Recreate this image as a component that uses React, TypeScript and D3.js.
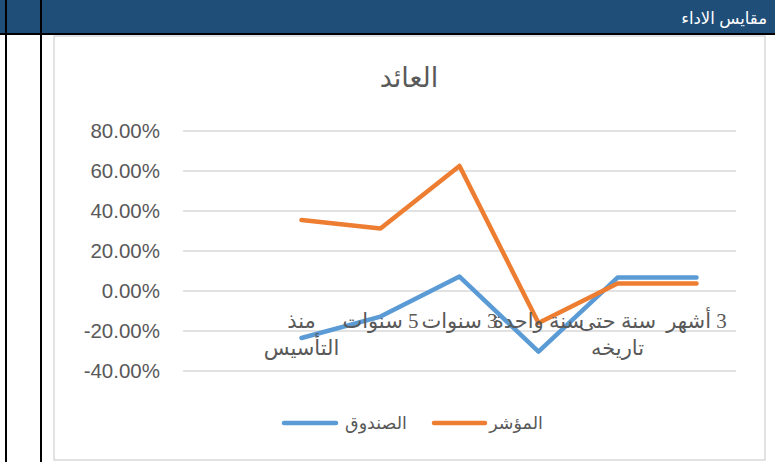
import React from "react";
import * as d3 from "d3";

const categories: string[] = ["", "منذ\nالتأسيس", "5 سنوات", "3 سنوات", "سنة واحدة", "سنة حتى\nتاريخه", "3 أشهر"];
const fundValues: (number | null)[] = [null, -23.5, -12.8, 7.2, -30.3, 6.7, 6.7];
const indexValues: (number | null)[] = [null, 35.5, 31.3, 62.5, -16, 3.8, 3.8];
const yTicks: number[] = [-40, -20, 0, 20, 40, 60, 80];
const seriesNames = { fund: "الصندوق", index: "المؤشر" };
const chartTitle = "العائد";
const headerTitle = "مقايس الاداء";

const W = 775;
const H = 462;
const GRID = "#d9d9d9";
const TEXT = "#595959";
const BLUE = "#5B9BD5";
const ORANGE = "#ED7D31";

export default function App() {
  const x = d3.scaleBand<string>().domain(categories.map((_, i) => String(i))).range([183, 736]);
  const y = d3.scaleLinear().domain([-40, 80]).range([371, 131]);
  const cx = (i: number) => (x(String(i)) as number) + x.bandwidth() / 2;

  const line = d3
    .line<number | null>()
    .defined((d) => d !== null)
    .x((_, i) => cx(i))
    .y((d) => y(d as number));

  const fmt = (v: number) => v.toFixed(2) + "%";
  const arabicFont = "'Noto Sans', 'DejaVu Sans', sans-serif";
  const serifArabic = "'Times New Roman', 'DejaVu Sans', serif";

  return (
    <svg
      width={W}
      height={H}
      style={{ position: "absolute", left: 0, top: 0, background: "#fff" }}
    >
      {/* header band */}
      <rect x={0} y={0} width={W} height={33} fill="#1F4E79" />
      <rect x={0} y={33} width={W} height={2} fill="#000" />
      <text
        x={767}
        y={24}
        textAnchor="end"
        fill="#fff"
        fontSize={16.5}
        fontFamily={arabicFont}
      >
        {headerTitle}
      </text>
      {/* table vertical lines */}
      <rect x={5} y={0} width={2} height={H} fill="#000" />
      <rect x={40} y={0} width={2} height={H} fill="#000" />

      {/* chart box */}
      <rect x={54} y={36} width={711} height={424} fill="#fff" stroke={GRID} strokeWidth={1.5} />

      {/* title */}
      <text x={409} y={87} textAnchor="middle" fontSize={27} fill={TEXT} fontFamily={arabicFont}>
        {chartTitle}
      </text>

      {/* gridlines + y labels */}
      {yTicks.map((t) => (
        <g key={t}>
          <line x1={183} x2={736} y1={y(t)} y2={y(t)} stroke={GRID} strokeWidth={1.5} />
          <text
            x={160}
            y={y(t)}
            dy="0.35em"
            textAnchor="end"
            fontSize={20.5}
            fill={TEXT}
            fontFamily="'Liberation Sans', Arial, sans-serif"
          >
            {fmt(t)}
          </text>
        </g>
      ))}

      {/* series */}
      <path
        d={line(fundValues) || ""}
        fill="none"
        stroke={BLUE}
        strokeWidth={4.5}
        strokeLinecap="round"
        strokeLinejoin="round"
      />
      <path
        d={line(indexValues) || ""}
        fill="none"
        stroke={ORANGE}
        strokeWidth={4.5}
        strokeLinecap="round"
        strokeLinejoin="round"
      />

      {/* category labels */}
      {categories.map((c, i) =>
        c
          ? c.split("\n").map((ln, j) => (
              <text
                key={i + "-" + j}
                x={cx(i)}
                y={328 + j * 27}
                textAnchor="middle"
                direction="rtl"
                fontSize={21}
                fill={TEXT}
                fontFamily={serifArabic}
              >
                {ln}
              </text>
            ))
          : null
      )}

      {/* legend */}
      <line x1={434} x2={485} y1={423} y2={423} stroke={ORANGE} strokeWidth={4.5} strokeLinecap="round" />
      <text x={516} y={429} textAnchor="middle" fontSize={17.5} fill={TEXT} fontFamily={arabicFont}>
        {seriesNames.index}
      </text>
      <line x1={284} x2={336} y1={423} y2={423} stroke={BLUE} strokeWidth={4.5} strokeLinecap="round" />
      <text x={376} y={429} textAnchor="middle" fontSize={17.5} fill={TEXT} fontFamily={arabicFont}>
        {seriesNames.fund}
      </text>
    </svg>
  );
}
